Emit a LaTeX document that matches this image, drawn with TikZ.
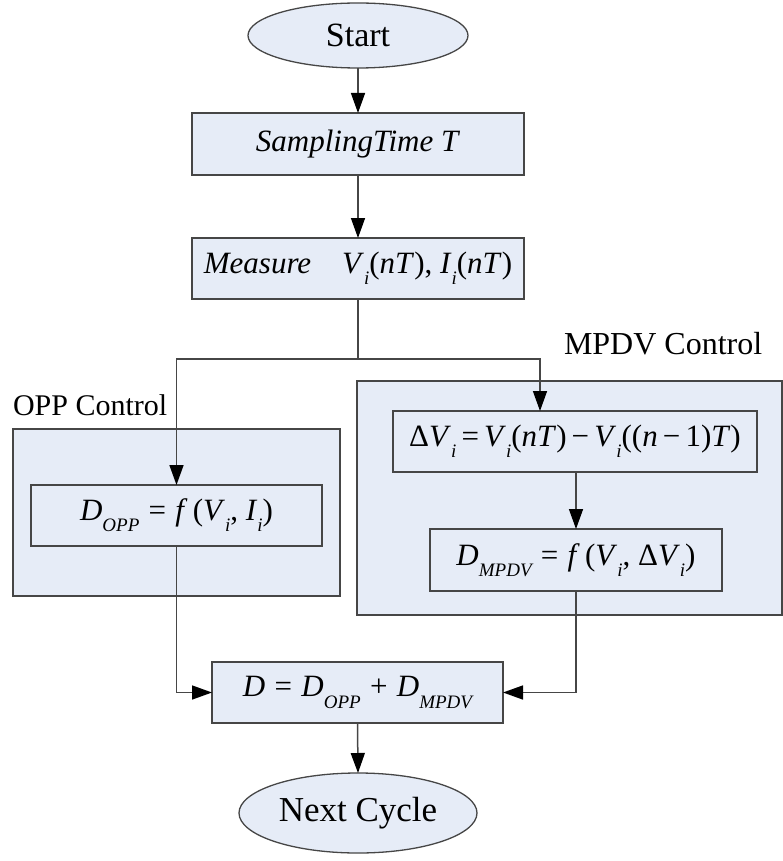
\documentclass[tikz,border=0pt]{standalone}
\usepackage{fontspec}
\setmainfont{Liberation Serif}
\usetikzlibrary{arrows.meta,shapes.geometric}
\definecolor{boxfill}{RGB}{230,236,247}
\definecolor{edgecol}{RGB}{70,70,70}
\newcommand{\iv}[1]{\textit{#1}}
\newcommand{\sbi}[1]{\raisebox{-0.36em}{\fontsize{19}{20}\selectfont\itshape #1}}
\newcommand{\eqs}{\hspace{0.3em}=\hspace{0.3em}}
\tikzset{
  x=1pt, y=-1pt,
  every node/.style={inner sep=0pt, outer sep=0pt},
  proc/.style={draw=edgecol, line width=1.3pt, fill=boxfill, rectangle, font=\fontsize{31}{36}\selectfont},
  term/.style={draw=edgecol, line width=1.3pt, fill=boxfill, ellipse},
  region/.style={draw=edgecol, line width=1.3pt, fill=boxfill, rectangle},
  lbl/.style={anchor=base west, font=\fontsize{31}{36}\selectfont},
  conn/.style={draw=edgecol, line width=1.5pt},
  arr/.style={conn, -{Triangle[length=20pt,width=14pt,color=black]}}
}
\begin{document}
\begin{tikzpicture}
\useasboundingbox (0,0) rectangle (783,861);
% regions
\node[region, minimum width=327pt, minimum height=167pt] (oppreg) at (176.5,512.5) {};
\node[region, minimum width=425pt, minimum height=234pt] (mpdvreg) at (569.5,498) {};
\node[lbl, font=\fontsize{30}{36}\selectfont] (opplbl) at (13,415) {OPP Control};
\node[lbl, font=\fontsize{32}{38}\selectfont] (mpdvlbl) at (564,354) {MPDV Control};
% terminals and steps
\node[term, minimum width=220pt, minimum height=65pt, font=\fontsize{34}{40}\selectfont] (start) at (358,35.5) {Start};
\node[proc, minimum width=332pt, minimum height=62pt] (samp) at (358,144) {\iv{SamplingTime T}};
\node[proc, minimum width=332pt, minimum height=61pt] (meas) at (358,268.5) {\iv{Measure}\quad\iv{V}\sbi{i}(\iv{nT}), \iv{I}\sbi{i}(\iv{nT})};
\node[proc, minimum width=291pt, minimum height=61pt] (dopp) at (176.5,515.5) {\iv{D}\sbi{OPP}\eqs\iv{f}\,(\iv{V}\sbi{i}, \iv{I}\sbi{i})};
\node[proc, minimum width=364pt, minimum height=61pt] (dv) at (575,441.5) {Δ\iv{V}\sbi{i}\,=\,\iv{V}\sbi{i}(\iv{nT})\,−\,\iv{V}\sbi{i}((\iv{n}\,−\,1)\iv{T})};
\node[proc, minimum width=292pt, minimum height=62pt] (dmpdv) at (576,560) {\iv{D}\sbi{MPDV}\eqs\iv{f}\,(\iv{V}\sbi{i}, Δ\iv{V}\sbi{i})};
\node[proc, minimum width=291pt, minimum height=61pt] (d) at (357.5,692.5) {\iv{D}\eqs\iv{D}\sbi{OPP}\hspace{0.3em}+\hspace{0.3em}\iv{D}\sbi{MPDV}};
\node[term, minimum width=238pt, minimum height=80pt, font=\fontsize{35}{42}\selectfont] (next) at (358,813) {Next Cycle};
% connectors
\coordinate (split) at (358,359);
\draw[arr] (start.south) -- (samp.north);
\draw[arr] (samp.south) -- (meas.north);
\draw[conn] (meas.south) -- (split);
\draw[arr] (split) -| (dopp.north);
\draw[arr] (split) -| ([xshift=-35pt]dv.north);
\draw[arr] (dmpdv.north |- dv.south) -- (dmpdv.north);
\draw[arr] (dopp.south) |- (d.west);
\draw[arr] (dmpdv.south) |- (d.east);
\draw[arr] (d.south) -- (next.north);
\end{tikzpicture}
\end{document}
